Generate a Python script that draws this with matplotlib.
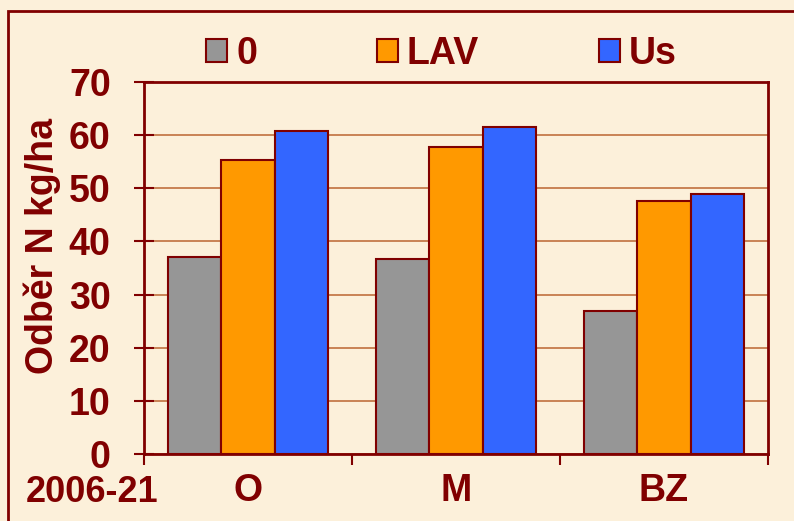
import matplotlib
matplotlib.use("Agg")
import matplotlib.pyplot as plt
from matplotlib.patches import Rectangle, Patch
import numpy as np

# Data
categories = ["O", "M", "BZ"]
series_names = ["0", "LAV", "Us"]
vals_0 = [37.0, 36.7, 27.0]
vals_lav = [55.3, 57.8, 47.7]
vals_us = [60.8, 61.6, 48.9]
yticks = [0, 10, 20, 30, 40, 50, 60, 70]
period_label = "2006-21"
ylabel = "Odběr N kg/ha"

colors = ["#969696", "#FF9900", "#3366FF"]
dark = "#800000"
bg = "#FCF0DA"
grid_c = "#C0703F"

plt.rcParams['font.family'] = ['Liberation Sans', 'DejaVu Sans']
plt.rcParams['font.weight'] = 'bold'

fig = plt.figure(figsize=(7.94, 5.21), dpi=100)
fig.patch.set_facecolor(bg)

W, H = 794, 521
ax = fig.add_axes([144 / W, 1 - 454 / H, (768 - 144) / W, (454 - 82) / H])
ax.set_facecolor(bg)

x = np.arange(len(categories))
bw = 0.258
for i, (vals, col, name) in enumerate(zip([vals_0, vals_lav, vals_us], colors, series_names)):
    ax.bar(x + (i - 1) * bw, vals, width=bw, color=col, edgecolor=dark,
           linewidth=1.5, label=name, zorder=3)

ax.set_xlim(-0.5, len(categories) - 0.5)
ax.set_ylim(0, 70)
ax.set_yticks(yticks)
ax.yaxis.grid(True, color=grid_c, linewidth=1.2, zorder=0)
ax.set_axisbelow(True)

# category labels at centers, tick marks at boundaries
ax.set_xticks(x)
ax.set_xticklabels(categories, fontsize=27, fontweight='bold', color=dark)
ax.set_xticks(np.arange(-0.5, len(categories)), minor=True)
ax.tick_params(axis='x', which='major', length=0, pad=14)
ax.tick_params(axis='x', which='minor', length=8, width=1.5, color=dark, direction='out')
ax.tick_params(axis='y', length=14, width=1.5, color=dark, direction='inout',
               labelsize=27, labelcolor=dark, pad=17)
for lab in ax.get_yticklabels():
    lab.set_fontweight('bold')

for sp in ax.spines.values():
    sp.set_color(dark)
    sp.set_linewidth(2)

fig.text(42 / W, 1 - 246.5 / H, ylabel, rotation=90, ha='center', va='center',
         fontsize=27, fontweight='bold', color=dark)
fig.text(26 / W, 1 - 492 / H, period_label, ha='left', va='center',
         fontsize=26, fontweight='bold', color=dark)

handles = [Patch(facecolor=c, edgecolor=dark, linewidth=1.5) for c in colors]
leg = fig.legend(handles, series_names, loc='center', bbox_to_anchor=(441.5 / W, 1 - 54 / H),
                 ncol=3, frameon=False, fontsize=27, handlelength=0.55, handleheight=0.55,
                 handletextpad=0.25, columnspacing=3.2, labelcolor=dark)
for t in leg.get_texts():
    t.set_fontweight('bold')

# outer frame
fig.patches.append(Rectangle((8 / W, -0.1), 1.2, 1 - 11 / H + 0.1, transform=fig.transFigure,
                             fill=False, edgecolor=dark, linewidth=2))

fig.savefig("out.png", dpi=100, facecolor=bg)
